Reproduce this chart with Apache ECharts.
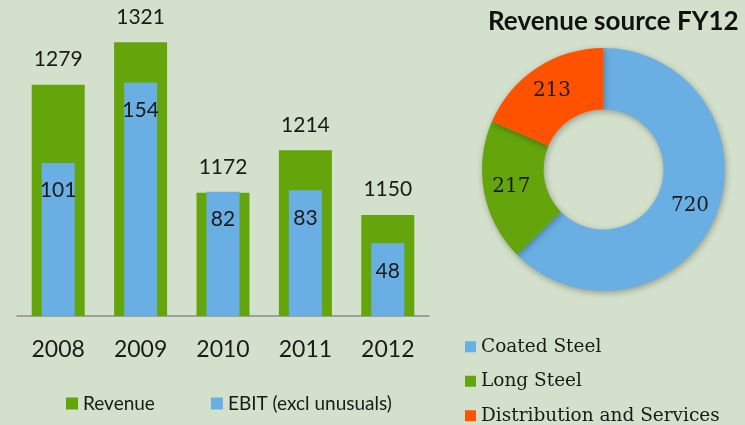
<!DOCTYPE html>
<html>
<head>
<meta charset="utf-8">
<script src="https://cdn.jsdelivr.net/npm/echarts@6/dist/echarts.min.js"></script>
<style>
  html, body { margin: 0; padding: 0; background: #d3e0cb; }
  #chart { width: 745px; height: 425px; }
</style>
</head>
<body>
<div id="chart"></div>
<script>
// bar chart data
const years = ["2008", "2009", "2010", "2011", "2012"];
const revenue = [1279, 1321, 1172, 1214, 1150];
const ebit = [101, 154, 82, 83, 48];

// donut data
const sourceNames = ["Coated Steel", "Long Steel", "Distribution and Services"];
const sourceValues = [720, 217, 213];

const green = "#64a50b";
const blue = "#6aafe3";
const orange = "#ff5200";
const textColor = "#1a1a1a";

const chart = echarts.init(document.getElementById("chart"));

const option = {
  backgroundColor: "#d3e0cb",
  animation: false,
  title: {
    text: "Revenue source FY12",
    left: 483,
    top: 4,
    textStyle: {
      fontFamily: "Lato",
      fontWeight: "bold",
      fontSize: 26,
      color: "#111",
    },
  },
  legend: [
    {
      data: ["Revenue", "EBIT (excl unusuals)"],
      left: 61,
      top: 389,
      icon: "rect",
      itemWidth: 12,
      itemHeight: 12,
      itemGap: 56,
      textStyle: { fontFamily: "Lato", fontSize: 19, color: textColor },
    },
    {
      data: sourceNames,
      orient: "vertical",
      left: 465,
      top: 336,
      height: 120,
      padding: 0,
      icon: "rect",
      itemWidth: 11,
      itemHeight: 11,
      itemGap: 13,
      textStyle: { fontFamily: "DejaVu Serif", fontSize: 18.5, lineHeight: 21.5, color: textColor, padding: [0, 0, 0, 0] },
    },
  ],
  grid: {
    left: 17,
    right: 316,
    top: 13,
    bottom: 109,
  },
  xAxis: [
    {
      type: "category",
      data: years,
      axisLine: { lineStyle: { color: "#8c8c8c", width: 1.5 } },
      axisTick: { show: false },
      axisLabel: { fontFamily: "Lato", fontSize: 23, color: textColor, margin: 22 },
    },
    {
      type: "category",
      data: years,
      show: false,
    },
  ],
  yAxis: [
    { type: "value", min: 1050, max: 1350, show: false },
    { type: "value", min: 0, max: 200, show: false },
  ],
  series: [
    {
      name: "Revenue",
      type: "bar",
      data: revenue,
      xAxisIndex: 0,
      yAxisIndex: 0,
      barWidth: 53,
      itemStyle: { color: green },
      label: {
        show: true,
        position: "top",
        distance: 15,
        fontFamily: "Lato",
        fontSize: 21,
        color: textColor,
      },
    },
    {
      name: "EBIT (excl unusuals)",
      type: "bar",
      data: ebit,
      xAxisIndex: 1,
      yAxisIndex: 1,
      barWidth: 33,
      itemStyle: { color: blue },
      label: {
        show: true,
        position: "insideTop",
        distance: 17,
        fontFamily: "Lato",
        fontSize: 21,
        color: textColor,
      },
    },
    {
      type: "pie",
      center: [603.5, 169.5],
      radius: [60, 121.5],
      startAngle: 90,
      data: sourceNames.map((name, i) => ({ name: name, value: sourceValues[i] })),
      color: [blue, green, orange],
      itemStyle: {
        shadowBlur: 6,
        shadowColor: "rgba(0,0,0,0.3)",
        shadowOffsetX: 1,
        shadowOffsetY: 2,
      },
      label: {
        show: true,
        position: "inside",
        formatter: "{c}",
        fontFamily: "DejaVu Serif",
        fontSize: 20,
        color: textColor,
      },
      labelLine: { show: false },
    },
  ],
};

chart.setOption(option);
</script>
</body>
</html>
